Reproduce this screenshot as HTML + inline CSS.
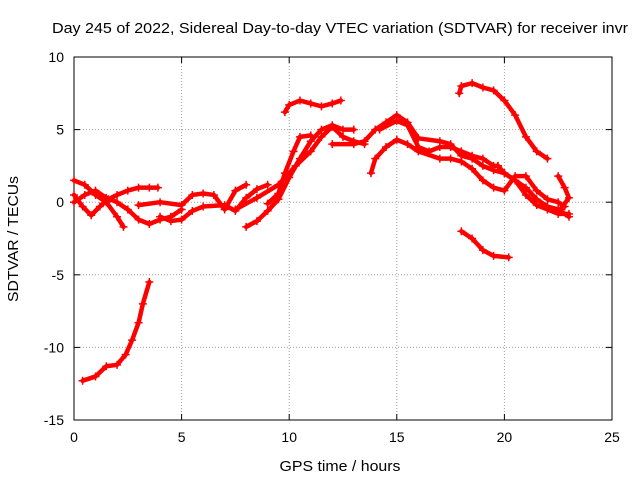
<!DOCTYPE html>
<html><head><meta charset="utf-8"><style>
html,body{margin:0;padding:0;background:#fff;}
svg{display:block;font-family:"Liberation Sans",sans-serif;}
</style></head><body>
<svg id="chart" width="640" height="480" viewBox="0 0 640 480">
<rect width="640" height="480" fill="#fff"/>
<text x="340" y="33" font-size="15" text-anchor="middle" textLength="576" lengthAdjust="spacingAndGlyphs">Day 245 of 2022, Sidereal Day-to-day VTEC variation (SDTVAR) for receiver invr</text>
<g id="grid"></g><g id="axes"></g><g id="series"></g>
<text x="340" y="471" font-size="15" text-anchor="middle" textLength="121" lengthAdjust="spacingAndGlyphs">GPS time / hours</text>
<text transform="translate(18,239) rotate(-90)" font-size="15" text-anchor="middle" textLength="126" lengthAdjust="spacingAndGlyphs">SDTVAR / TECUs</text>
</svg>
<script>
const xTicks=[0,5,10,15,20,25];
const yTicks=[-15,-10,-5,0,5,10];
const track1=[[0.4,-12.3],[1.0,-12],[1.5,-11.3],[2.0,-11.2],[2.4,-10.5],[2.7,-9.5],[3.0,-8.3],[3.2,-7],[3.5,-5.5]];
const track2=[[0,1.5],[0.5,1.2],[1,0.5],[1.5,0],[2.0,-1],[2.3,-1.7]];
const track3=[[0,0.5],[0.4,-0.3],[0.8,-0.9],[1.2,-0.3],[1.6,0.2],[2,0.5],[2.5,0.8],[3,1],[3.5,1.0],[3.9,1.0]];
const track4=[[0,0],[0.5,0.5],[1,0.8],[1.5,0.3],[2,0],[2.5,-0.5],[3,-1.2],[3.5,-1.5],[4,-1.2],[4.5,-1],[5,-0.5]];
const track5=[[3,-0.2],[4,0],[5,-0.2],[5.5,0.5],[6,0.6],[6.5,0.5],[7,-0.5],[7.5,0.8],[8,1.2]];
const track6=[[4,-1],[4.5,-1.3],[5,-1.2],[5.5,-0.6],[6,-0.3],[7,-0.2],[7.5,-0.6],[8,0.3],[8.5,0.9],[9,1.2]];
const track7=[[8,-1.7],[8.5,-1.3],[9,-0.6],[9.5,0.2],[10,1.7],[10.5,3],[11,4.2],[11.5,5],[12,5.3],[12.5,5.0],[13,5.0]];
const track8=[[9,-0.1],[9.5,0.6],[9.8,2],[10.2,3.5],[10.5,4.5],[11,4.6]];
const track9=[[7.5,-0.5],[8.5,0.3],[9.5,1.2],[10.3,2.5],[11,3.5],[11.5,4.5],[12,5.2],[12.5,4.5],[13,4.2],[13.5,4.0]];
const track10=[[9.8,6.2],[10,6.7],[10.5,7.0],[11,6.8],[11.5,6.6],[12,6.8],[12.4,7.0]];
const track11=[[12,4.0],[13,4.0],[13.5,4.2],[14,5.0],[14.5,5.5],[15,6.0],[15.5,5.5],[16,4.4],[17,4.2],[17.5,4.0],[18,3.2],[18.5,3.0],[19,2.5],[19.5,2.2],[20,2.0],[20.5,1.5],[21,1.0],[21.5,0.2],[22,-0.3],[22.5,-0.5],[23,-1.0]];
const track12=[[13.8,2],[14,3],[14.5,3.8],[15,4.3],[15.5,4.0],[16,3.5],[17,3.0],[17.5,3],[18,2.8],[18.5,2.3],[19,1.5],[19.5,1.0],[20,0.8],[20.5,1.8],[21,1.8],[21.5,0.8],[22,0.2],[22.5,0.0],[22.8,-0.3]];
const track13=[[14.2,5],[15,5.6],[15.5,5.3],[16,3.8],[16.5,3.5],[17,3.8],[17.5,3.8],[18,3.5],[18.5,3.2],[19,3.0],[19.5,2.5],[19.7,2.5]];
const track14=[[17.9,7.5],[18,8],[18.5,8.2],[19,7.9],[19.5,7.7],[20,7.0],[20.5,6],[21,4.5],[21.5,3.5],[22,3.0]];
const track15=[[18,-2],[18.5,-2.5],[19,-3.3],[19.5,-3.7],[20.2,-3.8]];
const track16=[[22.5,1.8],[22.8,1.0],[23,0.3],[22.6,-0.5]];
const track17=[[19.7,2.5],[20,2],[20.5,1.5],[21,0.5],[21.5,-0.2],[22,-0.5],[22.5,-0.8],[23,-0.8]];
const tracks=[track1,track2,track3,track4,track5,track6,track7,track8,track9,track10,track11,track12,track13,track14,track15,track16,track17];
const X0=74,X1=612,Y0=420,Y1=57;
function xs(v){return X0+(v-0)/(25-0)*(X1-X0);}
function ys(v){return Y0-(v+15)/(25)*(Y0-Y1);}
const NS="http://www.w3.org/2000/svg";
function mk(t,a,p){const e=document.createElementNS(NS,t);for(const k in a)e.setAttribute(k,a[k]);p.appendChild(e);return e;}
const grid=document.getElementById('grid'),axes=document.getElementById('axes'),ser=document.getElementById('series');
xTicks.forEach(t=>{
  const x=xs(t);
  if(t>0&&t<25){const g=mk('line',{x1:x,x2:x,y1:Y1,y2:Y0,stroke:'#a0a0a0','stroke-dasharray':'1,2','stroke-width':1},grid);
  
  }
  mk('line',{x1:x,x2:x,y1:Y0,y2:Y0-6,stroke:'#000'},axes);
  mk('line',{x1:x,x2:x,y1:Y1,y2:Y1+6,stroke:'#000'},axes);
  const l=mk('text',{x:x,y:Y0+22,'font-size':14,'text-anchor':'middle'},axes);l.textContent=t;
  
  
});
yTicks.forEach(t=>{
  const y=ys(t);
  if(t>-15&&t<10){const g=mk('line',{x1:X0,x2:X1,y1:y,y2:y,stroke:'#a0a0a0','stroke-dasharray':'1,2','stroke-width':1},grid);
  
  }
  mk('line',{x1:X0,x2:X0+6,y1:y,y2:y,stroke:'#000'},axes);
  mk('line',{x1:X1,x2:X1-6,y1:y,y2:y,stroke:'#000'},axes);
  const l=mk('text',{x:X0-10,y:y+5,'font-size':14,'text-anchor':'end'},axes);l.textContent=t;
  
  
});
const fr=mk('rect',{x:X0,y:Y1,width:X1-X0,height:Y0-Y1,fill:'none',stroke:'#000'},axes);


tracks.forEach(tr=>{
  const pts=tr.map(p=>xs(p[0])+','+ys(p[1])).join(' ');
  const pl=mk('polyline',{points:pts,fill:'none',stroke:'#f00','stroke-width':4.5,'stroke-linejoin':'round','stroke-linecap':'round'},ser);
  
  
  tr.forEach(p=>{
    const x=xs(p[0]),y=ys(p[1]);
    const m=mk('path',{d:`M${x-4},${y}H${x+4}M${x},${y-4}V${y+4}`,stroke:'#f00','stroke-width':1.5},ser);
    
    
  });
});
</script>
</body></html>
